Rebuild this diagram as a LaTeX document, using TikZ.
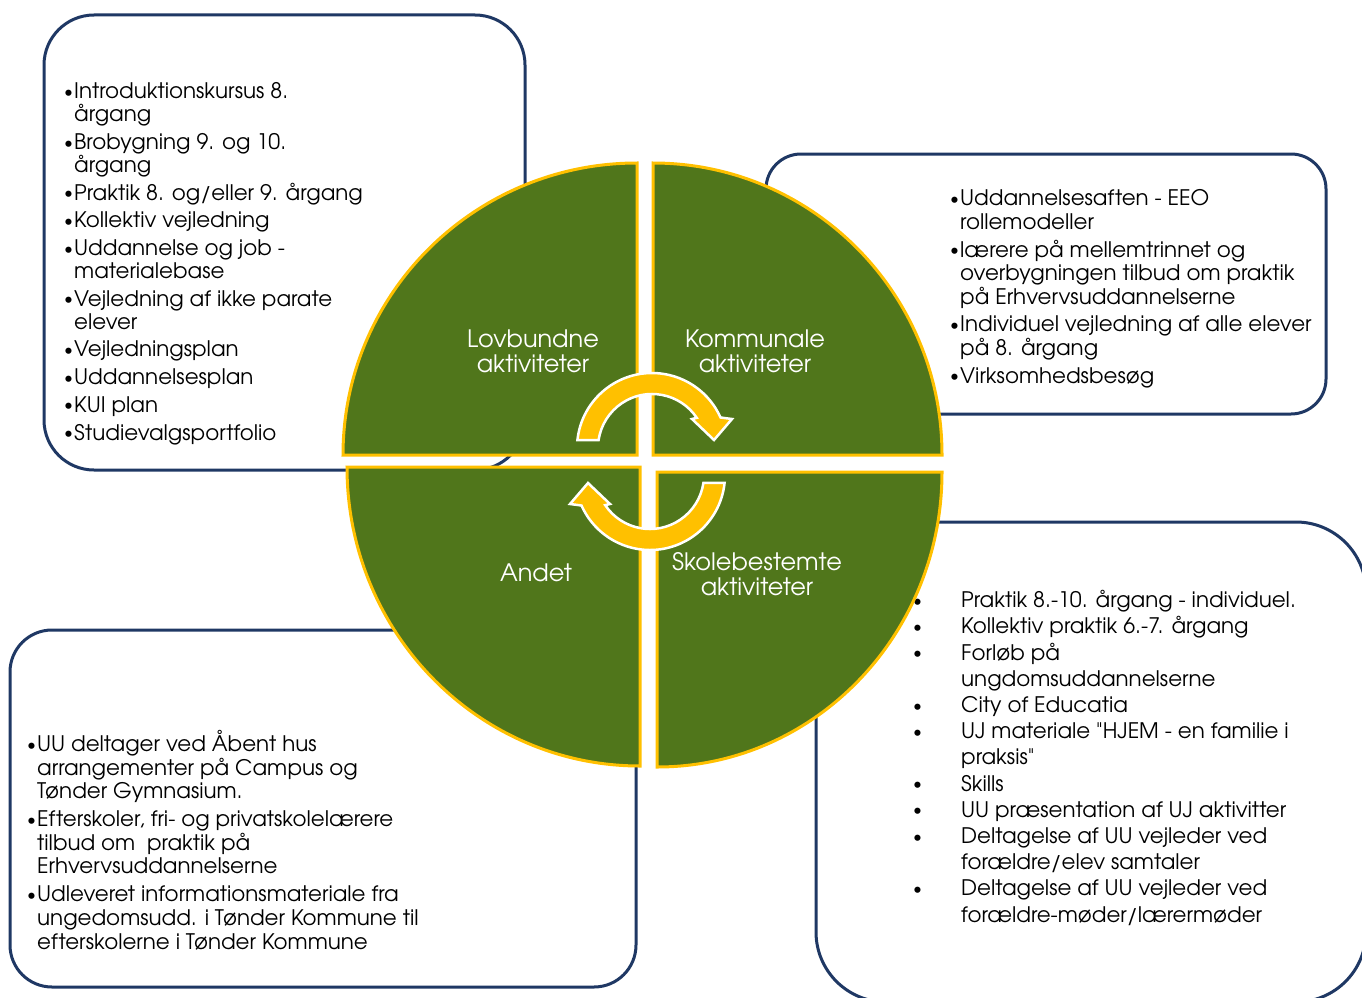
\documentclass[tikz,border=0pt]{standalone}
\usepackage{fontspec}
\setmainfont{texgyreadventor}[Extension=.otf, UprightFont=*-regular, BoldFont=*-bold]
\newfontfamily\plainq{texgyreadventor}[Extension=.otf, UprightFont=*-regular]
\usetikzlibrary{calc}
\definecolor{navy}{RGB}{31,56,100}
\definecolor{qgreen}{RGB}{80,118,27}
\definecolor{qyellow}{RGB}{255,192,0}
\newcommand\smallbullet{\raisebox{1.4pt}{\scalebox{0.8}{\textbullet}}}
\newcommand\bul{\makebox[10pt][l]{\smallbullet}}
\newcommand\hang{\hspace*{10pt}}
\newcommand\wbul{\makebox[48pt][l]{\smallbullet}}
\newcommand\whang{\hspace*{48pt}}
\newcommand\sq{{\plainq "}}
\newcommand\tightlines{\lineskiplimit=-30pt\relax\lineskip=0pt\relax}
\begin{document}
\begin{tikzpicture}[x=1pt,y=1pt,
  infobox/.style={draw=navy, line width=3pt, fill=white},
  listtext/.style={inner sep=0pt, anchor=base west, align=left},
  quad/.style={draw=qyellow, line width=3pt, fill=qgreen},
  qlabel/.style={text=white, align=center, font=\fontsize{24}{25}\selectfont, inner sep=0pt},
  cyc/.style={fill=qyellow, draw=white, line width=2.5pt, line join=miter}]

\path[use as bounding box] (0,0) rectangle (1362,-998);

% information boxes
\draw[infobox, rounded corners=50pt] (44,-15) rectangle (525,-470);
\draw[infobox, rounded corners=35pt] (766,-154) rectangle (1326,-414);
\draw[infobox, rounded corners=42pt] (10,-630) rectangle (636,-987);
\draw[infobox, rounded corners=70pt] (816,-522) rectangle (1366,-1002);

% texts in boxes (anchored at the baseline of their last line)
\node[listtext, font=\fontsize{21.4}{23}\selectfont\tightlines] (tltext) at (64,-440) {\bul Introduktionskursus 8.\\ \hang årgang\\[4.7pt]
\bul Brobygning 9. og 10.\\ \hang årgang\\[4.7pt]
\bul Praktik 8. og/eller 9. årgang\\[4.7pt]
\bul Kollektiv vejledning\\[4.7pt]
\bul Uddannelse og job -\\ \hang materialebase\\[4.7pt]
\bul Vejledning af ikke parate\\ \hang elever\\[4.7pt]
\bul Vejledningsplan\\[4.7pt]
\bul Uddannelsesplan\\[4.7pt]
\bul KUI plan\\[4.7pt]
\bul Studievalgsportfolio};

\node[listtext, font=\fontsize{21.4}{23.5}\selectfont\tightlines] (trtext) at (950,-383) {\bul Uddannelsesaften - EEO\\ \hang rollemodeller\\[4.2pt]
\bul lærere på mellemtrinnet og\\ \hang overbygningen tilbud om praktik\\ \hang på Erhvervsuddannelserne\\[4.2pt]
\bul Individuel vejledning af alle elever\\ \hang på 8. årgang\\[4.2pt]
\bul Virksomhedsbesøg};

\node[listtext, font=\fontsize{21.4}{23.7}\selectfont\tightlines] (bltext) at (27,-949) {\bul UU deltager ved Åbent hus\\ \hang arrangementer på Campus og\\ \hang Tønder Gymnasium.\\[4pt]
\bul Efterskoler, fri- og privatskolelærere\\ \hang tilbud om\ \ praktik på\\ \hang Erhvervsuddannelserne\\[4pt]
\bul Udleveret informationsmateriale fra\\ \hang ungedomsudd. i Tønder Kommune til\\ \hang efterskolerne i Tønder Kommune};

\node[listtext, font=\fontsize{21.4}{26.2}\selectfont\tightlines] (brtext) at (913,-922) {\wbul Praktik 8.-10. årgang - individuel.\\
\wbul Kollektiv praktik 6.-7. årgang\\
\wbul Forløb på\\ \whang ungdomsuddannelserne\\
\wbul City of Educatia\\
\wbul UJ materiale \sq HJEM - en familie i\\ \whang praksis\sq\\
\wbul Skills\\
\wbul UU præsentation af UJ aktivitter\\
\wbul Deltagelse af UU vejleder ved\\ \whang forældre/elev samtaler\\
\wbul Deltagelse af UU vejleder ved\\ \whang forældre-møder/lærermøder};

% circle quadrants
\draw[quad] (637,-455) -- (343,-455) arc[start angle=180,end angle=90,x radius=294,y radius=292] -- cycle;
\draw[quad] (653,-455) -- (653,-163) arc[start angle=90,end angle=0,x radius=289,y radius=292] -- cycle;
\draw[quad] (640,-467) -- (640,-766) arc[start angle=270,end angle=180,x radius=293,y radius=299] -- cycle;
\draw[quad] (657,-472) -- (942,-472) arc[start angle=0,end angle=-90,x radius=285,y radius=295] -- cycle;

\node[qlabel] (lov) at (533,-351) {Lovbundne\\aktiviteter};
\node[qlabel] (kom) at (755,-351) {Kommunale\\aktiviteter};
\node[qlabel] (and) at (536,-573) {Andet};
\node[qlabel] (sko) at (757,-574) {Skolebestemte\\aktiviteter};

% cycle arrows
\coordinate (T) at (652,-448);
\coordinate (B) at (650,-475);
\draw[cyc] ($(T)+(174:75)$) arc[start angle=174,end angle=24,radius=75] -- (732,-419) -- (714,-440) -- (692,-419) -- ($(T)+(34:54)$) arc[start angle=34,end angle=171.5,radius=54] -- cycle;
\draw[cyc] ($(B)+(354:75)$) arc[start angle=354,end angle=204,radius=75] -- (570,-504) -- (588,-483) -- (610,-504) -- ($(B)+(214:54)$) arc[start angle=214,end angle=351.5,radius=54] -- cycle;
\end{tikzpicture}
\end{document}
